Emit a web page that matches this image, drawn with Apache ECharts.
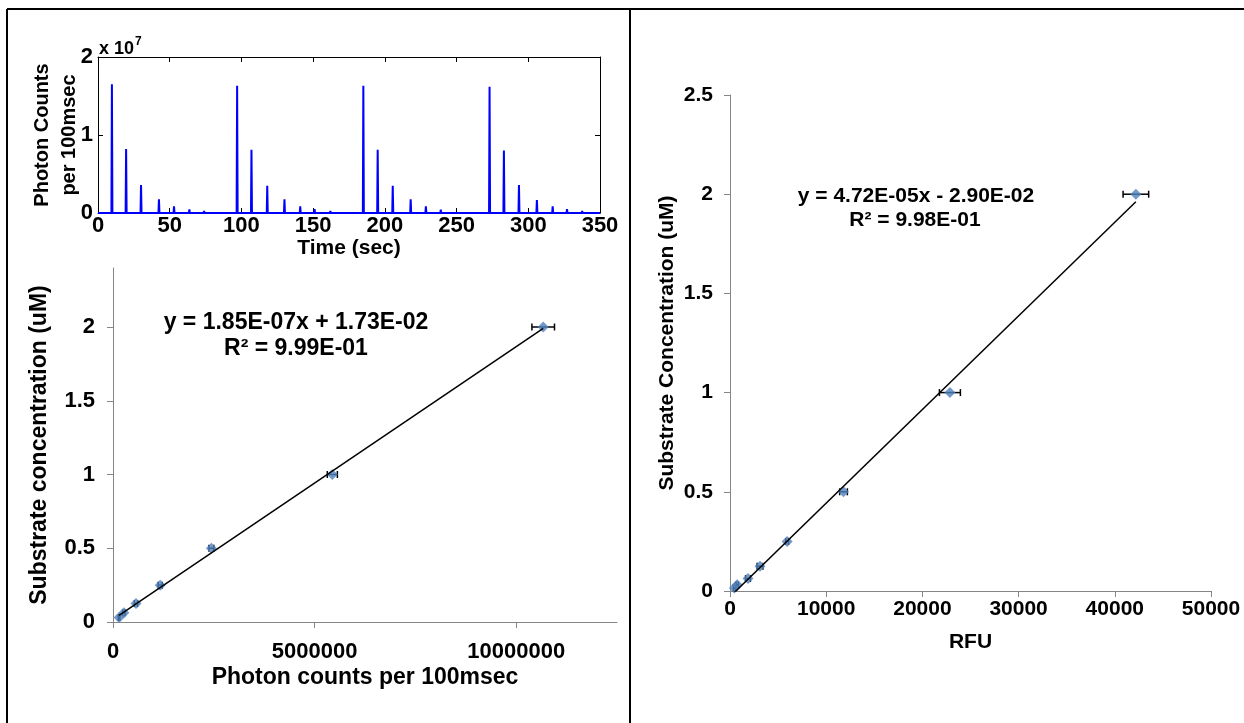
<!DOCTYPE html>
<html lang="en">
<head>
<meta charset="UTF-8">
<title>Photon counts and RFU calibration</title>
<script src="https://cdn.jsdelivr.net/npm/echarts@6/dist/echarts.min.js"></script>
<style>
  html, body { margin: 0; padding: 0; background: #fff; }
  #main { width: 1244px; height: 723px; }
</style>
</head>
<body>
<div id="main"></div>
<script>
// top trace: peak times (sec) and photon counts per 100 msec
var peakTimes = [9.7, 19.6, 30, 42.5, 53, 63.7, 74,
                 97, 107, 118, 130, 141, 151, 162,
                 185, 195, 205.5, 218, 228.6, 239, 249.6,
                 273, 283, 293.5, 306, 317, 327, 337.6];
var peakCounts = [16500000, 8200000, 3600000, 1750000, 850000, 470000, 260000,
                  16300000, 8100000, 3500000, 1750000, 850000, 500000, 260000,
                  16300000, 8100000, 3500000, 1750000, 850000, 430000, 200000,
                  16200000, 8000000, 3600000, 1660000, 850000, 500000, 260000];

// bottom left: photon counts vs substrate concentration
var photonCounts = [150000, 270000, 570000, 1170000, 2440000, 5440000, 10670000];
var photonConc   = [0.03125, 0.0625, 0.125, 0.25, 0.5, 1, 2];
var photonErr    = [20000, 30000, 40000, 50000, 60000, 125000, 280000];
var photonFit    = [1.85e-7, 1.73e-2];
var photonTicks  = [0, 5000000, 10000000];
var leftConcTicks = [0, 0.5, 1, 1.5, 2];

// right: RFU vs substrate concentration
var rfu       = [450, 750, 1870, 3120, 5940, 11800, 22860, 42190];
var rfuConc   = [0.015625, 0.03125, 0.0625, 0.125, 0.25, 0.5, 1, 2];
var rfuErr    = [100, 120, 250, 300, 150, 400, 1090, 1330];
var rfuFit    = [4.72e-5, -2.90e-2];

var FONT = '"Liberation Sans", Arial, sans-serif';

function txt(size) {
    return { fontFamily: FONT, fontWeight: 'bold', fontSize: size, color: '#000' };
}
function plain(v) { return String(v); }

// spikes drawn as narrow triangles on the zero baseline
var trace = [[0, 0]];
for (var i = 0; i < peakTimes.length; i++) {
    trace.push([peakTimes[i] - 0.35, 0], [peakTimes[i], peakCounts[i]], [peakTimes[i] + 0.35, 0]);
}
trace.push([350, 0]);

function zip3(a, b, c) {
    var out = [];
    for (var k = 0; k < a.length; k++) out.push([a[k], b[k], c[k]]);
    return out;
}
function zip2(a, b) {
    var out = [];
    for (var k = 0; k < a.length; k++) out.push([a[k], b[k]]);
    return out;
}
function fitLine(xs, fit) {
    var lo = Math.min.apply(null, xs), hi = Math.max.apply(null, xs);
    return [[lo, fit[0] * lo + fit[1]], [hi, fit[0] * hi + fit[1]]];
}

function errorBars(params, api) {
    var x = api.value(0), y = api.value(1), e = api.value(2);
    var a = api.coord([x - e, y]), b = api.coord([x + e, y]);
    var s = { stroke: '#000', lineWidth: 1.5 };
    return { type: 'group', children: [
        { type: 'line', shape: { x1: a[0], y1: a[1], x2: b[0], y2: b[1] }, style: s },
        { type: 'line', shape: { x1: a[0], y1: a[1] - 3.5, x2: a[0], y2: a[1] + 3.5 }, style: s },
        { type: 'line', shape: { x1: b[0], y1: b[1] - 3.5, x2: b[0], y2: b[1] + 3.5 }, style: s }
    ]};
}

// MATLAB style box: all four sides, ticks pointing in
var matlabAxis = {
    axisLine: { show: true, onZero: false, lineStyle: { color: '#000', width: 1 } },
    axisTick: { show: true, inside: true, length: 5, lineStyle: { color: '#000' } },
    splitLine: { show: false }
};
var excelLine = { show: true, onZero: false, lineStyle: { color: '#868686', width: 1 } };
var excelTick = { show: true, inside: false, length: 6, lineStyle: { color: '#868686' } };

function eqText(x, y, str, size) {
    return { type: 'text', x: x, y: y, style: {
        text: str, font: 'bold ' + size + 'px ' + FONT, fill: '#000',
        align: 'center', verticalAlign: 'middle', textAlign: 'center', textVerticalAlign: 'middle'
    }};
}
function rule(x1, y1, x2, y2) {
    return { type: 'line', shape: { x1: x1, y1: y1, x2: x2, y2: y2 }, style: { stroke: '#000', lineWidth: 2 } };
}

var chart = echarts.init(document.getElementById('main'));
chart.setOption({
    animation: false,
    grid: [
        { left: 98, top: 57, width: 502, height: 156 },
        { left: 113, top: 268, width: 504, height: 354 },
        { left: 730, top: 95, width: 481, height: 496 }
    ],
    xAxis: [
        Object.assign({ gridIndex: 0, type: 'value', min: 0, max: 350, interval: 50,
            axisLabel: Object.assign(txt(22), { margin: 2 }),
            name: 'Time (sec)', nameLocation: 'middle', nameGap: 9, nameTextStyle: txt(21) }, matlabAxis),
        Object.assign({ gridIndex: 0, type: 'value', position: 'top', min: 0, max: 350, interval: 50,
            axisLabel: { show: false } }, matlabAxis),
        { gridIndex: 1, type: 'value', min: 0, max: 12500000,
            axisLine: excelLine,
            axisTick: Object.assign({ customValues: photonTicks }, excelTick),
            axisLabel: Object.assign(txt(22), { margin: 19, customValues: photonTicks, formatter: plain }),
            splitLine: { show: false },
            name: 'Photon counts per 100msec', nameLocation: 'middle', nameGap: 44, nameTextStyle: txt(23) },
        { gridIndex: 2, type: 'value', min: 0, max: 50000, interval: 10000,
            axisLine: excelLine, axisTick: excelTick,
            axisLabel: Object.assign(txt(21), { margin: 8, formatter: plain }),
            splitLine: { show: false },
            name: 'RFU', nameLocation: 'middle', nameGap: 41, nameTextStyle: txt(21) }
    ],
    yAxis: [
        Object.assign({ gridIndex: 0, type: 'value', min: 0, max: 20000000, interval: 10000000,
            axisLabel: Object.assign(txt(22), { margin: 5, formatter: function (v) { return String(v / 10000000); } }),
            name: 'Photon Counts\nper 100msec', nameLocation: 'middle', nameGap: 15, nameMoveOverlap: false,
            nameTextStyle: Object.assign(txt(20), { lineHeight: 27 }) }, matlabAxis),
        Object.assign({ gridIndex: 0, type: 'value', position: 'right', min: 0, max: 20000000, interval: 10000000,
            axisLabel: { show: false } }, matlabAxis),
        { gridIndex: 1, type: 'value', min: 0, max: 2.4,
            axisLine: excelLine,
            axisTick: Object.assign({ customValues: leftConcTicks }, excelTick),
            axisLabel: Object.assign(txt(22), { margin: 18, customValues: leftConcTicks, formatter: plain }),
            splitLine: { show: false },
            name: 'Substrate concentration (uM)', nameLocation: 'middle', nameGap: 62, nameTextStyle: txt(23) },
        { gridIndex: 2, type: 'value', min: 0, max: 2.5, interval: 0.5,
            axisLine: excelLine, axisTick: excelTick,
            axisLabel: Object.assign(txt(21), { margin: 17, formatter: plain }),
            splitLine: { show: false },
            name: 'Substrate Concentration (uM)', nameLocation: 'middle', nameGap: 52, nameTextStyle: txt(21) }
    ],
    series: [
        { type: 'line', xAxisIndex: 0, yAxisIndex: 0, data: trace, showSymbol: false,
          lineStyle: { color: '#0000ff', width: 2 }, silent: true },

        { type: 'line', xAxisIndex: 2, yAxisIndex: 2, data: fitLine(photonCounts, photonFit),
          showSymbol: false, lineStyle: { color: '#000', width: 1.5 }, silent: true },
        { type: 'custom', xAxisIndex: 2, yAxisIndex: 2, renderItem: errorBars,
          data: zip3(photonCounts, photonConc, photonErr), encode: { x: 0, y: 1 } },
        { type: 'scatter', xAxisIndex: 2, yAxisIndex: 2, data: zip2(photonCounts, photonConc),
          symbol: 'diamond', symbolSize: 11, itemStyle: { color: '#4f81bd' } },

        { type: 'line', xAxisIndex: 3, yAxisIndex: 3, data: fitLine(rfu, rfuFit),
          showSymbol: false, lineStyle: { color: '#000', width: 1.5 }, silent: true },
        { type: 'custom', xAxisIndex: 3, yAxisIndex: 3, renderItem: errorBars,
          data: zip3(rfu, rfuConc, rfuErr), encode: { x: 0, y: 1 } },
        { type: 'scatter', xAxisIndex: 3, yAxisIndex: 3, data: zip2(rfu, rfuConc),
          symbol: 'diamond', symbolSize: 11, itemStyle: { color: '#4f81bd' } }
    ],
    graphic: [
        rule(7, 9, 1244, 9),
        rule(7, 9, 7, 723),
        rule(630, 9, 630, 723),
        { type: 'text', x: 99, y: 49, style: { text: 'x 10', font: 'bold 18px ' + FONT, fill: '#000',
            align: 'left', verticalAlign: 'middle', textAlign: 'left', textVerticalAlign: 'middle' } },
        { type: 'text', x: 135, y: 42, style: { text: '7', font: 'bold 12px ' + FONT, fill: '#000',
            align: 'left', verticalAlign: 'middle', textAlign: 'left', textVerticalAlign: 'middle' } },
        eqText(296, 323, 'y = 1.85E-07x + 1.73E-02', 23),
        eqText(296, 349, 'R² = 9.99E-01', 23),
        eqText(916, 196, 'y = 4.72E-05x - 2.90E-02', 21),
        eqText(915, 220, 'R² = 9.98E-01', 21)
    ]
});
</script>
</body>
</html>
